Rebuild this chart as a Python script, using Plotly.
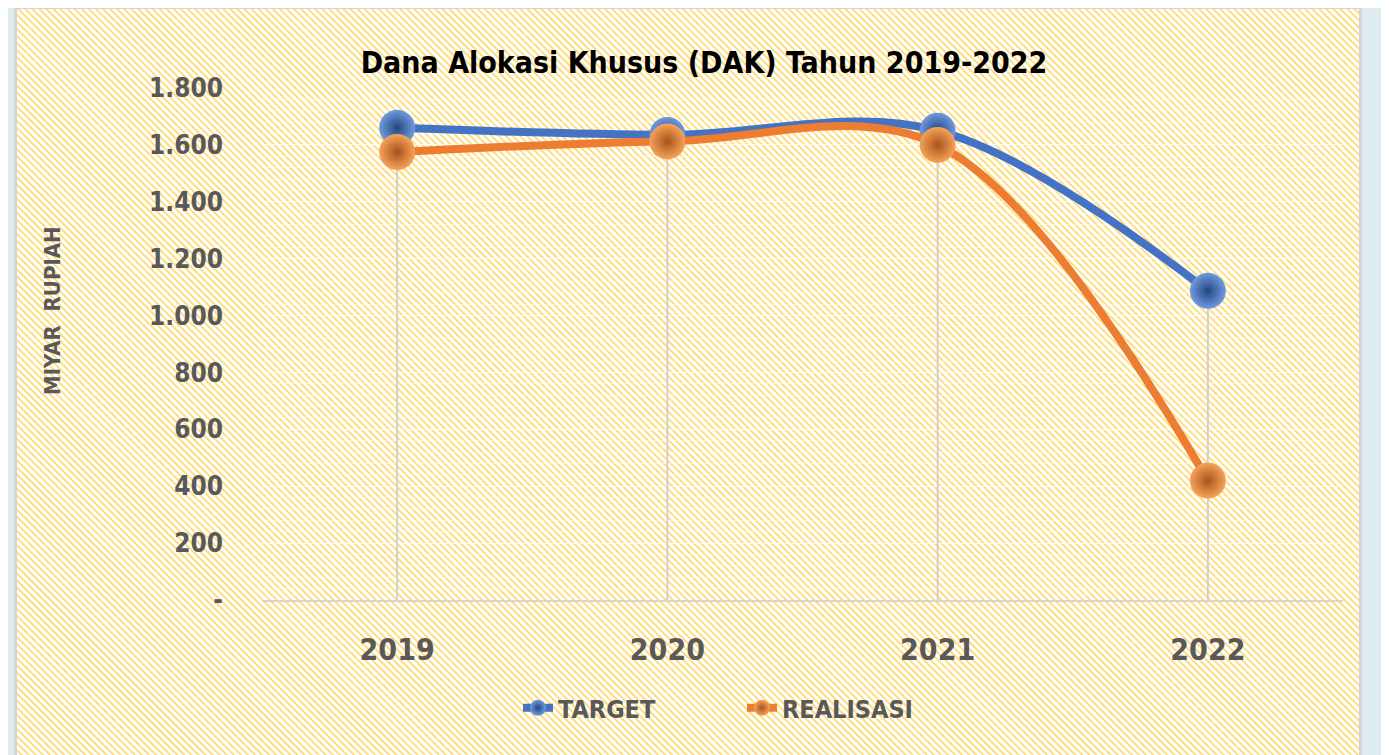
import base64
import plotly.graph_objects as go

years = ["2019", "2020", "2021", "2022"]
target = [1660, 1635, 1650, 1087]
realisasi = [1575, 1612, 1600, 420]
tick_vals = [0, 200, 400, 600, 800, 1000, 1200, 1400, 1600, 1800]
tick_text = ["-", "200", "400", "600", "800", "1.000", "1.200", "1.400", "1.600", "1.800"]

FONT = "DejaVu Sans Condensed"
GRAY = "#595959"
OFF = 8  # page body margin in the browser

# hatched background (Excel-like downward diagonal pattern)
W, H = 1348, 760
svg = (
    f"<svg xmlns='http://www.w3.org/2000/svg' width='{W}' height='{H}'>"
    "<defs><pattern id='p' width='5' height='5' patternUnits='userSpaceOnUse' patternTransform='rotate(-45)'>"
    "<rect width='5' height='5' fill='#ffffff'/><rect width='1.6' height='5' fill='#FFD660'/></pattern></defs>"
    f"<rect x='1.5' y='1.5' width='{W-3}' height='{H-3}' fill='url(#p)' stroke='#d4d4d4' stroke-width='3'/></svg>"
)
src = "data:image/svg+xml;base64," + base64.b64encode(svg.encode()).decode()

# target pixel positions in the screenshot
PX_L, PX_R, PX_T, PX_B = 262, 1343, 88, 600
L = PX_L - OFF
T = PX_T - OFF
R = 1389 - (PX_R - OFF)
B = 755 - (PX_B - OFF)
PW, PH = PX_R - PX_L, PX_B - PX_T

def px2x(px):
    return (px - PX_L) / PW

def py2y(py):
    return (PX_B - py) / PH

fig = go.Figure()

# drop lines
dx, dy = [], []
for i, yr in enumerate(years):
    dx += [yr, yr, None]
    dy += [0, max(target[i], realisasi[i]), None]
fig.add_trace(go.Scatter(x=dx, y=dy, mode="lines", line=dict(color="#d0d0d0", width=2),
                         showlegend=False, hoverinfo="skip"))

fig.add_trace(go.Scatter(
    x=years, y=target, name="TARGET", mode="lines+markers",
    line=dict(color="#4472C4", width=8, shape="spline", smoothing=1),
    marker=dict(size=36, color="#6f9be0",
                gradient=dict(type="radial", color="#24467f"),
                line=dict(width=0)),
))
fig.add_trace(go.Scatter(
    x=years, y=realisasi, name="REALISASI", mode="lines+markers",
    line=dict(color="#ED7D31", width=8, shape="spline", smoothing=1),
    marker=dict(size=36, color="#f6a35a",
                gradient=dict(type="radial", color="#a9521a"),
                line=dict(width=0)),
))

fig.update_layout(
    width=1389, height=755,
    margin=dict(l=L, r=R, t=T, b=B),
    paper_bgcolor="#dfecef",
    plot_bgcolor="rgba(0,0,0,0)",
    font=dict(family=FONT, color=GRAY),
    images=[dict(source=src, xref="paper", yref="paper",
                 x=px2x(14), y=py2y(6), sizex=W / PW, sizey=H / PH,
                 xanchor="left", yanchor="top", sizing="stretch", layer="below")],
    title=dict(text="<b>Dana Alokasi Khusus (DAK) Tahun 2019-2022</b>",
               font=dict(family=FONT, size=30, color="#000000"),
               x=(704 - OFF) / 1389, xanchor="center", y=1 - (62 - OFF) / 755, yanchor="middle"),
    xaxis=dict(type="category", range=[-0.5, 3.5], showgrid=False, showline=True,
               linecolor="#d6d6d6", linewidth=2, ticks="",
               tickfont=dict(family=FONT, size=30, color=GRAY),
               ticklabelstandoff=22),
    yaxis=dict(range=[0, 1800], tickvals=tick_vals, ticktext=tick_text,
               showgrid=True, gridcolor="rgba(255,255,255,0.6)", gridwidth=1,
               minor=dict(dtick=40, showgrid=True, gridcolor="rgba(255,255,255,0.45)", gridwidth=1),
               zeroline=False, showline=False, ticks="",
               tickfont=dict(family=FONT, size=26, color=GRAY),
               ticklabelstandoff=38),
    legend=dict(orientation="h", x=px2x(518), xanchor="left", y=py2y(708), yanchor="middle",
                font=dict(family=FONT, size=25, color=GRAY), bgcolor="rgba(0,0,0,0)",
                entrywidth=179, entrywidthmode="pixels"),
    annotations=[dict(text="<b>MIYAR  RUPIAH</b>", xref="paper", yref="paper",
                      x=px2x(52), y=py2y(311), textangle=-90, showarrow=False,
                      font=dict(family=FONT, size=22, color=GRAY),
                      xanchor="center", yanchor="middle")],
)
fig.update_layout(yaxis_tickfont_weight="bold", xaxis_tickfont_weight="bold",
                  legend_font_weight="bold")

fig.write_html("out.html")
